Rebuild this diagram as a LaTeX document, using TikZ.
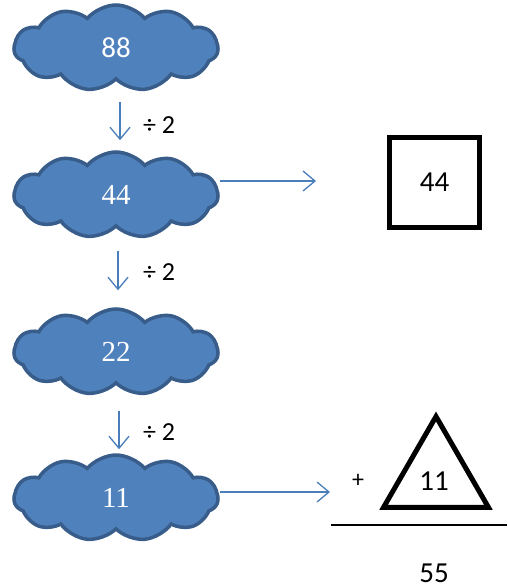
\documentclass[tikz,border=0pt]{standalone}
\usepackage{fontspec}
\setmainfont{Carlito}
\newfontfamily\serifnum{Liberation Serif}
\usetikzlibrary{positioning,shapes.symbols,shapes.geometric,arrows.meta}
\definecolor{cloudblue}{RGB}{79,129,189}
\definecolor{cloudedge}{RGB}{56,93,138}
\definecolor{arrowblue}{RGB}{74,126,187}

\begin{document}
\begin{tikzpicture}[x=1pt, y=-1pt,
        cloudnode/.style={cloud, cloud puffs=11, cloud puff arc=100, aspect=2.4,
            draw=cloudedge, line width=3.5pt, fill=cloudblue, text=white,
            minimum width=204pt, minimum height=86pt, inner sep=0pt, font=\fontsize{29}{31}\selectfont},
        flow/.style={draw=arrowblue, line width=1.3pt, -{Straight Barb[length=12pt, width=20pt]}},
        divlabel/.style={font=\fontsize{26}{28}\selectfont, inner sep=0pt},
        numlabel/.style={font=\fontsize{29}{31}\selectfont, inner sep=0pt}]
        \useasboundingbox (0,0) rectangle (507,588);
        \node[cloudnode] (c88) at (116,48) {88};
        \node[cloudnode] (c44) at (116,195) {\serifnum 44};
        \node[cloudnode] (c22) at (116,352) {\serifnum 22};
        \node[cloudnode] (c11) at (116,498) {\serifnum 11};
        \draw[flow, shorten >=10pt] ([xshift=4pt]c88.south) ++(0,21) coordinate (a1) -- (a1 |- c44.north) coordinate (b1);
        \draw[flow, shorten >=17pt] ([xshift=2pt]c44.south) ++(0,23) coordinate (a2) -- (a2 |- c22.north) coordinate (b2);
        \draw[flow, shorten >=4pt] ([xshift=3pt]c22.south) ++(0,26) coordinate (a3) -- (a3 |- c11.north) coordinate (b3);
        \node[divlabel] (div1) at (159,125) {÷ 2};
        \node[divlabel] (div2) at (159,272) {÷ 2};
        \node[divlabel] (div3) at (159,432) {÷ 2};
        % answer box and triangle
        \node[draw, line width=5pt, minimum size=90pt, numlabel] (box) at (434.5,182.5) {44};
        \node[regular polygon, regular polygon sides=3, draw, line width=5pt,
            minimum size=121pt, inner sep=0pt, numlabel] (tri) at (436,477) {};
        \node[numlabel] (t11) at (434,481) {11};
        \node[font=\fontsize{24}{26}\selectfont, inner sep=0pt] (plus) at (358,481) {+};
        \coordinate (r1) at (316,181);
        \coordinate (r2) at (330,492);
        \draw[flow] (c44.east |- r1) -- (r1);
        \draw[flow] (c11.east |- r2) -- (r2);
        \coordinate (sumleft) at (331,525);
        \coordinate (sumright) at (507,525);
        \draw[line width=1.8pt] (sumleft) -- (sumright);
        \node[numlabel] (sum) at (434,573) {55};
\end{tikzpicture}
\end{document}
